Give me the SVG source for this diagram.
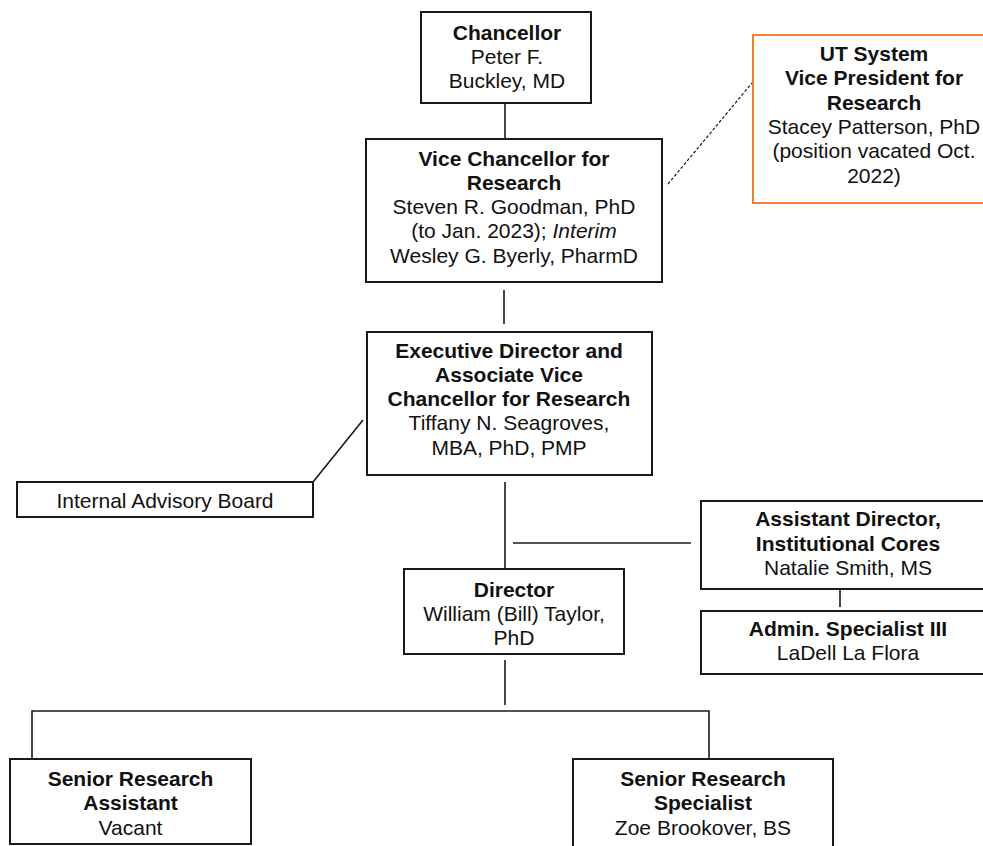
<svg xmlns="http://www.w3.org/2000/svg" width="983" height="846" viewBox="0 0 983 846">
<style>
.box{fill:#fff;stroke:#1a1a1a;stroke-width:2}
.obox{fill:#fff;stroke:#ED7D31;stroke-width:2}
.ln{stroke:#1a1a1a;stroke-width:1.6;fill:none}
.dash{stroke:#1a1a1a;stroke-width:1.2;stroke-dasharray:3 2;fill:none}
text{font-family:"Liberation Sans",Arial,sans-serif;font-size:21px;fill:#111;text-anchor:middle}
.b{font-weight:bold}
</style>
<rect width="983" height="846" fill="#fff"/>
<g id="connectors">
<line class="ln" x1="505" y1="103" x2="505" y2="139"/>
<line class="ln" x1="504" y1="290" x2="504" y2="324"/>
<line class="dash" x1="668" y1="184" x2="752" y2="83"/>
<line class="ln" x1="313" y1="482" x2="363" y2="420"/>
<line class="ln" x1="505" y1="482" x2="505" y2="569"/>
<line class="ln" x1="513" y1="543" x2="691" y2="543"/>
<line class="ln" x1="840" y1="589" x2="840" y2="607"/>
<line class="ln" x1="505" y1="660" x2="505" y2="705"/>
<polyline class="ln" points="32,759 32,711 709,711 709,759"/>
</g>
<g id="chancellor">
<rect class="box" x="421" y="12" width="170" height="91"/>
<text x="507" y="40" class="b">Chancellor</text>
<text x="507" y="64">Peter F.</text>
<text x="507" y="88">Buckley, MD</text>
</g>
<g id="vice-chancellor">
<rect class="box" x="366" y="139" width="296" height="143"/>
<text x="514" y="165.5" class="b">Vice Chancellor for</text>
<text x="514" y="189.8" class="b">Research</text>
<text x="514" y="214.1">Steven R. Goodman, PhD</text>
<text x="514" y="238.4">(to Jan. 2023); <tspan font-style="italic">Interim</tspan></text>
<text x="514" y="262.7">Wesley G. Byerly, PharmD</text>
</g>
<g id="ut-system">
<rect class="obox" x="753" y="35" width="245" height="168"/>
<text x="874" y="61" class="b">UT System</text>
<text x="874" y="85.3" class="b">Vice President for</text>
<text x="874" y="109.6" class="b">Research</text>
<text x="874" y="133.9">Stacey Patterson, PhD</text>
<text x="874" y="158.2">(position vacated Oct.</text>
<text x="874" y="182.5">2022)</text>
</g>
<g id="executive-director">
<rect class="box" x="367" y="332" width="285" height="143"/>
<text x="509" y="357.5" class="b">Executive Director and</text>
<text x="509" y="381.8" class="b">Associate Vice</text>
<text x="509" y="406.1" class="b">Chancellor for Research</text>
<text x="509" y="430.4">Tiffany N. Seagroves,</text>
<text x="509" y="454.7">MBA, PhD, PMP</text>
</g>
<g id="internal-advisory-board">
<rect class="box" x="17" y="482" width="296" height="35"/>
<text x="165" y="508">Internal Advisory Board</text>
</g>
<g id="assistant-director">
<rect class="box" x="701" y="501" width="295" height="88"/>
<text x="848" y="526" class="b">Assistant Director,</text>
<text x="848" y="550.5" class="b">Institutional Cores</text>
<text x="848" y="575">Natalie Smith, MS</text>
</g>
<g id="admin-specialist">
<rect class="box" x="701" y="611" width="295" height="63"/>
<text x="848" y="636" class="b">Admin. Specialist III</text>
<text x="848" y="660">LaDell La Flora</text>
</g>
<g id="director">
<rect class="box" x="404" y="569" width="220" height="85"/>
<text x="514" y="596.5" class="b">Director</text>
<text x="514" y="620.8">William (Bill) Taylor,</text>
<text x="514" y="645.1">PhD</text>
</g>
<g id="senior-research-assistant">
<rect class="box" x="10" y="759" width="241" height="85"/>
<text x="130.5" y="786" class="b">Senior Research</text>
<text x="130.5" y="810.3" class="b">Assistant</text>
<text x="130.5" y="834.6">Vacant</text>
</g>
<g id="senior-research-specialist">
<rect class="box" x="573" y="759" width="260" height="100"/>
<text x="703" y="786" class="b">Senior Research</text>
<text x="703" y="810.3" class="b">Specialist</text>
<text x="703" y="834.6">Zoe Brookover, BS</text>
</g>
</svg>
